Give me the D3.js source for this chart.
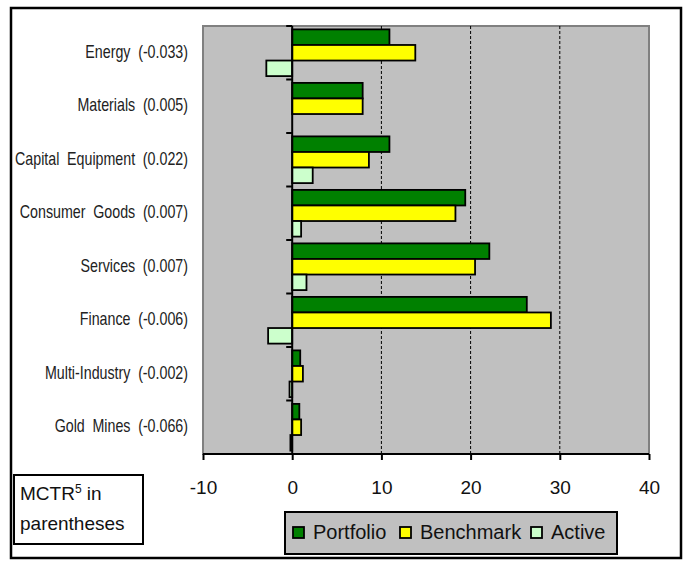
<!DOCTYPE html>
<html>
<head>
<meta charset="utf-8">
<script src="https://cdn.jsdelivr.net/npm/d3@7"></script>
<style>
  html, body { margin: 0; padding: 0; background: #fff; }
  svg { display: block; }
  .cat { font-family: "Liberation Sans", Arial, sans-serif; font-size: 19px; fill: #222; word-spacing: 5px; }
  .tick-label, .note, .legend-text { font-family: "Liberation Sans", Arial, sans-serif; fill: #111; }
</style>
</head>
<body>
<svg id="chart" width="686" height="562"></svg>
<script>
// Sector weights (%) and marginal contribution to tracking risk
const categories = ["Energy (-0.033)", "Materials (0.005)", "Capital Equipment (0.022)", "Consumer Goods (0.007)",
                    "Services (0.007)", "Finance (-0.006)", "Multi-Industry (-0.002)", "Gold Mines (-0.066)"];
const portfolio = [10.9, 7.9, 10.9, 19.4, 22.1, 26.3, 0.9, 0.8];
const benchmark = [13.8, 7.9, 8.6, 18.3, 20.5, 29.0, 1.2, 1.0];
const active    = [-2.9, 0.0, 2.3, 1.0, 1.6, -2.7, -0.3, -0.2];
const seriesNames = ["Portfolio", "Benchmark", "Active"];
const seriesColors = ["#008000", "#FFFF00", "#CCFFCC"];
const xTicks = [-10, 0, 10, 20, 30, 40];
const gridValues = [10, 20, 30];

const svg = d3.select("#chart");
const plot = { left: 203, right: 649, top: 26, bottom: 454 };

// outer frame
svg.append("rect").attr("x", 11).attr("y", 8).attr("width", 670).attr("height", 550)
  .attr("fill", "#fff").attr("stroke", "#000").attr("stroke-width", 2.5);

const x = d3.scaleLinear().domain([-10, 40]).range([plot.left, plot.right]);
const y = d3.scaleBand().domain(categories).range([plot.top, plot.bottom]).paddingInner(0).paddingOuter(0);
const ys = d3.scaleBand().domain(seriesNames).range([0, y.bandwidth()]).paddingInner(0).paddingOuter(0.218);

// plot background
svg.append("rect").attr("x", plot.left).attr("y", plot.top)
  .attr("width", plot.right - plot.left).attr("height", plot.bottom - plot.top)
  .attr("fill", "#C0C0C0").attr("stroke", "#808080").attr("stroke-width", 2);

// vertical gridlines
svg.append("g").selectAll("line").data(gridValues).join("line")
  .attr("x1", d => x(d)).attr("x2", d => x(d))
  .attr("y1", plot.top).attr("y2", plot.bottom)
  .attr("stroke", "#000").attr("stroke-width", 1).attr("stroke-dasharray", "3,2");

// bars
const rows = categories.map((c, i) => ({ cat: c, vals: [portfolio[i], benchmark[i], active[i]] }));
const groups = svg.append("g").selectAll("g").data(rows).join("g")
  .attr("transform", d => `translate(0,${y(d.cat)})`);
groups.selectAll("rect")
  .data(d => d.vals.map((v, k) => ({ v, s: seriesNames[k], k })).filter(e => e.v !== 0))
  .join("rect")
  .attr("x", e => x(Math.min(0, e.v)))
  .attr("width", e => Math.abs(x(e.v) - x(0)))
  .attr("y", e => ys(e.s))
  .attr("height", ys.bandwidth())
  .attr("fill", e => seriesColors[e.k])
  .attr("stroke", "#000").attr("stroke-width", 1.8);

// category axis at zero
svg.append("line").attr("x1", x(0)).attr("x2", x(0)).attr("y1", plot.top).attr("y2", plot.bottom)
  .attr("stroke", "#000").attr("stroke-width", 2);
const boundaries = categories.map(c => y(c)).concat([plot.bottom]);
svg.append("g").selectAll("line").data(boundaries).join("line")
  .attr("x1", x(0) - 6).attr("x2", x(0)).attr("y1", d => d).attr("y2", d => d)
  .attr("stroke", "#000").attr("stroke-width", 2);

// category labels, set in a condensed face
svg.append("g").selectAll("text").data(categories).join("text")
  .attr("class", "cat")
  .attr("transform", d => `translate(188,${y(d) + y.bandwidth() / 2 + 5}) scale(0.75,1)`)
  .attr("text-anchor", "end")
  .text(d => d);

// value axis
const xAxis = d3.axisBottom(x).tickValues(xTicks).tickSize(6).tickFormat(d => String(d));
const gx = svg.append("g").attr("transform", `translate(0,${plot.bottom})`).call(xAxis);
gx.select(".domain").attr("stroke", "#000").attr("stroke-width", 2).attr("d", `M${plot.left},0H${plot.right}`);
gx.selectAll(".tick line").attr("stroke", "#000").attr("stroke-width", 2);
gx.selectAll(".tick text").attr("class", "tick-label").attr("y", 40).attr("dy", 0)
  .style("font-size", "19px").attr("fill", "#111");

// note box
svg.append("rect").attr("x", 14).attr("y", 475).attr("width", 129).attr("height", 69)
  .attr("fill", "#fff").attr("stroke", "#000").attr("stroke-width", 2);
const note = svg.append("text").attr("class", "note").attr("x", 20).attr("y", 500).style("font-size", "19px");
note.append("tspan").text("MCTR");
note.append("tspan").attr("baseline-shift", "super").style("font-size", "12px").text("5");
note.append("tspan").text(" in");
svg.append("text").attr("class", "note").attr("x", 20).attr("y", 530).style("font-size", "19px").text("parentheses");

// legend
const legend = svg.append("g");
legend.append("rect").attr("x", 285).attr("y", 512).attr("width", 332).attr("height", 42)
  .attr("fill", "#C0C0C0").attr("stroke", "#000").attr("stroke-width", 2);
const legendX = [293, 400, 531];
seriesNames.forEach((s, k) => {
  legend.append("rect").attr("x", legendX[k]).attr("y", 527).attr("width", 11).attr("height", 11)
    .attr("fill", seriesColors[k]).attr("stroke", "#000").attr("stroke-width", 1.8);
  legend.append("text").attr("class", "legend-text").attr("x", legendX[k] + 20).attr("y", 539)
    .style("font-size", "20px").text(s);
});
</script>
</body>
</html>
